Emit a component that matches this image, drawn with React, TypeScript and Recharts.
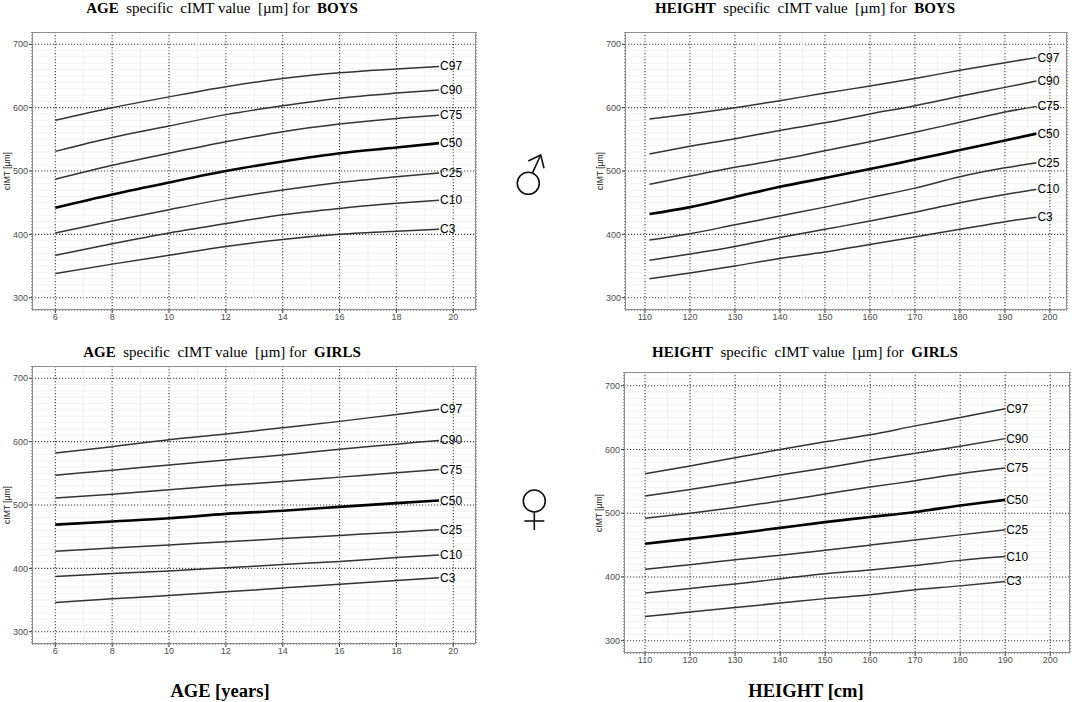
import React from "react"
import { CartesianGrid, Line, LineChart, ReferenceLine, XAxis, YAxis } from "recharts"

const PERCENTILES = ["C3", "C10", "C25", "C50", "C75", "C90", "C97"]

const AGE_X = [6, 8, 10, 12, 14, 16, 18, 19.5]
const HEIGHT_BOYS_X = [111, 120, 130, 140, 150, 160, 170, 180, 190, 197]
const HEIGHT_GIRLS_X = [110, 120, 130, 140, 150, 160, 170, 180, 190]

const AGE_TICKS = [6, 8, 10, 12, 14, 16, 18, 20]
const HEIGHT_TICKS = [110, 120, 130, 140, 150, 160, 170, 180, 190, 200]
const Y_TICKS = [300, 400, 500, 600, 700]

// cIMT percentiles, boys by age
const ageBoys = {
  C97: [580, 600, 617, 633, 646, 655, 661, 665],
  C90: [531, 553, 571, 589, 603, 615, 623, 628],
  C75: [487, 509, 528, 546, 562, 574, 583, 588],
  C50: [442, 463, 482, 500, 515, 528, 537, 544],
  C25: [402, 421, 439, 456, 470, 482, 491, 497],
  C10: [367, 385, 402, 417, 431, 441, 449, 454],
  C3: [338, 353, 367, 381, 392, 400, 405, 408],
}

// boys by height
const heightBoys = {
  C97: [582, 590, 600, 611, 623, 634, 646, 659, 671, 679],
  C90: [527, 539, 551, 564, 576, 590, 603, 618, 632, 642],
  C75: [479, 492, 506, 518, 532, 546, 561, 577, 593, 602],
  C50: [432, 443, 459, 475, 489, 503, 518, 533, 548, 559],
  C25: [391, 401, 415, 429, 443, 458, 473, 491, 505, 513],
  C10: [359, 369, 381, 395, 408, 421, 435, 450, 463, 471],
  C3: [330, 339, 350, 362, 372, 384, 396, 408, 420, 427],
}

// girls by age
const ageGirls = {
  C97: [582, 592, 603, 612, 622, 632, 643, 651],
  C90: [547, 555, 563, 571, 579, 588, 596, 602],
  C75: [511, 517, 524, 531, 537, 544, 551, 556],
  C50: [469, 474, 479, 486, 491, 497, 503, 507],
  C25: [427, 432, 437, 442, 447, 452, 457, 461],
  C10: [387, 392, 396, 401, 406, 411, 417, 421],
  C3: [346, 352, 357, 363, 369, 375, 381, 385],
}

// girls by height
const heightGirls = {
  C97: [562, 574, 587, 600, 612, 623, 637, 650, 664],
  C90: [527, 537, 548, 560, 571, 583, 594, 605, 617],
  C75: [492, 500, 509, 519, 530, 541, 551, 562, 571],
  C50: [452, 460, 468, 477, 486, 494, 502, 512, 521],
  C25: [412, 419, 427, 434, 442, 450, 458, 466, 474],
  C10: [375, 382, 389, 397, 405, 411, 418, 426, 432],
  C3: [338, 345, 352, 359, 366, 372, 380, 386, 393],
}

const MINOR_Y = Array.from({ length: 43 }, (_, i) => 290 + i * 10).filter((v) => v % 100 !== 0)
const MINOR_AGE = [5, 7, 9, 11, 13, 15, 17, 19]
const MINOR_HEIGHT = [105, 115, 125, 135, 145, 155, 165, 175, 185, 195]

const SANS = "'Liberation Sans', Arial, sans-serif"
const SERIF = "'Liberation Serif', 'Times New Roman', serif"

function toRows(xs: number[], series: Record<string, number[]>) {
  return xs.map((x, i) => {
    const row: Record<string, number> = { x }
    PERCENTILES.forEach((k) => (row[k] = series[k][i]))
    return row
  })
}

type PanelProps = {
  left: number
  top: number
  w: number
  h: number
  xs: number[]
  series: Record<string, number[]>
  xDomain: [number, number]
  yDomain: [number, number]
  xTicks: number[]
  minorX: number[]
}

const Y_AXIS_W = 32
const X_AXIS_H = 20

function Panel({ left, top, w, h, xs, series, xDomain, yDomain, xTicks, minorX }: PanelProps) {
  const data = toRows(xs, series)
  const last = data.length - 1
  const tick = { fontSize: 9, fill: "#4d4d4d", fontFamily: SANS }
  return (
    <>
      <div style={{ position: "absolute", left: left - Y_AXIS_W, top }}>
        <LineChart
          width={w + Y_AXIS_W + 2}
          height={h + X_AXIS_H}
          data={data}
          margin={{ top: 0, right: 2, bottom: 0, left: 0 }}
        >
          {MINOR_Y.map((v) => (
            <ReferenceLine key={"my" + v} y={v} stroke="#ececec" strokeWidth={0.7} />
          ))}
          {minorX.map((v) => (
            <ReferenceLine key={"mx" + v} x={v} stroke="#ececec" strokeWidth={0.7} />
          ))}
          <CartesianGrid stroke="#3a3a3a" strokeWidth={1.1} strokeDasharray="1.2 1.8" />
          <XAxis
            dataKey="x"
            type="number"
            domain={xDomain}
            ticks={xTicks}
            allowDataOverflow
            height={X_AXIS_H}
            tick={tick}
            tickSize={3}
            tickMargin={1}
            axisLine={false}
            tickLine={{ stroke: "#333" }}
          />
          <YAxis
            type="number"
            domain={yDomain}
            ticks={Y_TICKS}
            allowDataOverflow
            width={Y_AXIS_W}
            tick={tick}
            tickSize={3}
            tickMargin={1}
            axisLine={false}
            tickLine={{ stroke: "#333" }}
          />
          {PERCENTILES.map((k) => (
            <Line
              key={k}
              dataKey={k}
              type="monotone"
              stroke={k === "C50" ? "#000" : "#333"}
              strokeWidth={k === "C50" ? 2.6 : 1.5}
              dot={false}
              isAnimationActive={false}
              label={(p: any) =>
                p.index === last ? (
                  <text
                    key={k + "lbl"}
                    x={p.x + 1}
                    y={p.y}
                    dy={4}
                    fontSize={12}
                    fontFamily={SANS}
                    fill="#000"
                  >
                    {k}
                  </text>
                ) : (
                  <g key={k + "n" + p.index} />
                )
              }
            />
          ))}
        </LineChart>
      </div>
      <div
        style={{
          position: "absolute",
          left: left,
          top: top,
          width: w,
          height: h,
          border: "1px solid #8c8c8c",
          boxSizing: "border-box",
          pointerEvents: "none",
        }}
      />
      <div
        style={{
          position: "absolute",
          left: left - 25 - 30,
          top: top + h / 2 - 7,
          width: 60,
          height: 14,
          transform: "rotate(-90deg)",
          transformOrigin: "center",
          textAlign: "center",
          fontFamily: SANS,
          fontSize: 8.5,
          color: "#222",
          lineHeight: "14px",
          whiteSpace: "nowrap",
        }}
      >
        cIMT [µm]
      </div>
    </>
  )
}

function Title({ cx, cy, first, last }: { cx: number; cy: number; first: string; last: string }) {
  return (
    <div
      style={{
        position: "absolute",
        left: cx - 200,
        top: cy - 9,
        width: 400,
        textAlign: "center",
        fontFamily: SERIF,
        fontSize: 15,
        lineHeight: "18px",
        whiteSpace: "pre",
        color: "#000",
      }}
    >
      <b>{first}</b>
      {"  specific  cIMT value  [µm] for  "}
      <b>{last}</b>
    </div>
  )
}

function Caption({ cx, cy, text }: { cx: number; cy: number; text: string }) {
  return (
    <div
      style={{
        position: "absolute",
        left: cx - 150,
        top: cy - 13,
        width: 300,
        textAlign: "center",
        fontFamily: SERIF,
        fontWeight: "bold",
        fontSize: 18.5,
        lineHeight: "26px",
      }}
    >
      {text}
    </div>
  )
}

function MaleSign() {
  return (
    <svg style={{ position: "absolute", left: 505, top: 145, overflow: "visible" }} width={50} height={55}>
      <g transform="translate(-505,-145)" fill="none" stroke="#111" strokeWidth={1.6}>
        <circle cx={528.3} cy={183.3} r={11} />
        <line x1={532.5} y1={172.8} x2={540.7} y2={155} />
        <polyline points="528.3,161 540.7,155 544,168.3" />
      </g>
    </svg>
  )
}

function FemaleSign() {
  return (
    <svg style={{ position: "absolute", left: 510, top: 485, overflow: "visible" }} width={50} height={50}>
      <g transform="translate(-510,-485)" fill="none" stroke="#111" strokeWidth={1.6}>
        <circle cx={534.3} cy={501} r={11} />
        <line x1={534.3} y1={512} x2={534.3} y2={530} />
        <line x1={524.3} y1={521} x2={544.3} y2={521} />
      </g>
    </svg>
  )
}

export default function App() {
  return (
    <div
      style={{
        position: "absolute",
        left: 0,
        top: 0,
        width: 1074,
        height: 702,
        background: "#fff",
        overflow: "hidden",
      }}
    >
      <Title cx={222} cy={8} first="AGE" last="BOYS" />
      <Title cx={805} cy={8} first="HEIGHT" last="BOYS" />
      <Title cx={222} cy={352} first="AGE" last="GIRLS" />
      <Title cx={805} cy={352} first="HEIGHT" last="GIRLS" />

      <Panel
        left={32}
        top={32}
        w={444}
        h={278}
        xs={AGE_X}
        series={ageBoys}
        xDomain={[5.18, 20.8]}
        yDomain={[280.6, 719.4]}
        xTicks={AGE_TICKS}
        minorX={MINOR_AGE}
      />
      <Panel
        left={625}
        top={32}
        w={442}
        h={278}
        xs={HEIGHT_BOYS_X}
        series={heightBoys}
        xDomain={[105.56, 203.8]}
        yDomain={[280.6, 719.4]}
        xTicks={HEIGHT_TICKS}
        minorX={MINOR_HEIGHT}
      />
      <Panel
        left={32}
        top={366}
        w={444}
        h={278}
        xs={AGE_X}
        series={ageGirls}
        xDomain={[5.18, 20.8]}
        yDomain={[280.6, 719.4]}
        xTicks={AGE_TICKS}
        minorX={MINOR_AGE}
      />
      <Panel
        left={624}
        top={372}
        w={446}
        h={281}
        xs={HEIGHT_GIRLS_X}
        series={heightGirls}
        xDomain={[105.33, 204.4]}
        yDomain={[280.7, 721.5]}
        xTicks={HEIGHT_TICKS}
        minorX={MINOR_HEIGHT}
      />

      <MaleSign />
      <FemaleSign />

      <Caption cx={220} cy={691} text="AGE [years]" />
      <Caption cx={806} cy={691} text="HEIGHT [cm]" />
    </div>
  )
}
